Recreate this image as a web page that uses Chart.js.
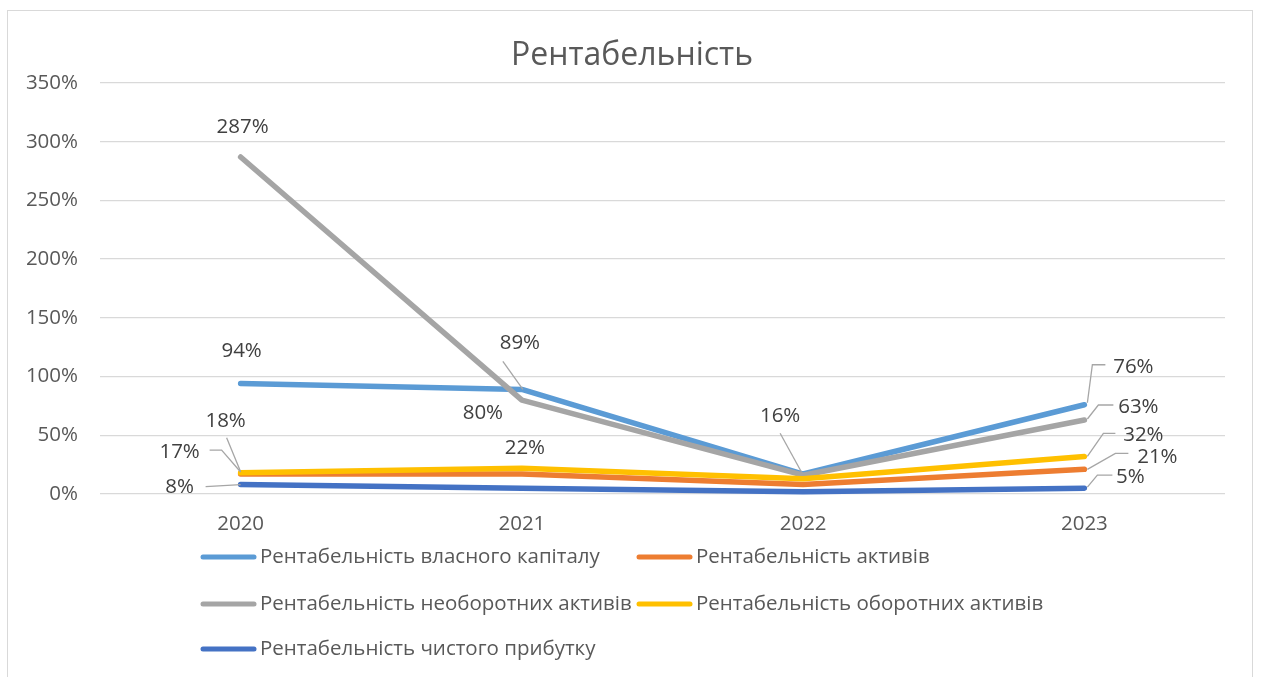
<!DOCTYPE html>
<html><head><meta charset="utf-8">
<script src="https://cdn.jsdelivr.net/npm/chart.js@4"></script>
<style>html,body{margin:0;padding:0;background:#fff;}#wrap{position:relative;width:1261px;height:677px;}</style>
</head><body><div id="wrap"><canvas id="c" width="1261" height="677"></canvas></div>
<script>
// ---- data ----
const chartTitle = 'Рентабельність';
const years = ['2020', '2021', '2022', '2023'];
const seriesNames = [
  'Рентабельність власного капіталу',
  'Рентабельність активів',
  'Рентабельність необоротних активів',
  'Рентабельність оборотних активів',
  'Рентабельність чистого прибутку'
];
const equityReturn = [94, 89, 17, 76];
const assetsReturn = [17, 17, 8, 21];
const nonCurrentReturn = [287, 80, 16, 63];
const currentReturn = [18, 22, 13, 32];
const netProfitReturn = [8, 5, 2, 5];
const yTicks = [0, 50, 100, 150, 200, 250, 300, 350];

// ---- styles ----
const colors = ['#5B9BD5', '#ED7D31', '#A5A5A5', '#FFC000', '#4472C4'];
const FONT = "'Open Sans', 'Noto Sans', sans-serif";
const TEXT = '#595959';
const FS = 20.5;

// label placement (offsets from the point, in px); leader = polyline offsets
const labelPlacement = [
  [{dx:1,dy:-32}, {dx:-2,dy:-46,leader:[[-19,-28],[1,0]]}, null, {dx:49,dy:-38,leader:[[3,-2],[8,-40],[21,-40]]}],
  [{dx:-61,dy:-22,leader:[[-31,-24],[-19,-24],[0,-2]]}, null, null, {dx:73,dy:-12,leader:[[3,0],[31,-16],[44,-16]]}],
  [{dx:2,dy:-30}, {dx:-39,dy:13}, {dx:-23,dy:-59,leader:[[-23,-42],[-1,-2]]}, {dx:54,dy:-13,leader:[[3,-1],[14,-15],[29,-15]]}],
  [{dx:-15,dy:-52,leader:[[-14,-35],[0,-1]]}, {dx:3,dy:-20}, null, {dx:59,dy:-21,leader:[[3,0],[19,-23],[31,-23]]}],
  [{dx:-61,dy:3,leader:[[-35,2],[0,0]]}, null, null, {dx:46,dy:-11,leader:[[3,-1],[13,-13],[28,-13]]}]
];

const seriesData = [equityReturn, assetsReturn, nonCurrentReturn, currentReturn, netProfitReturn];

const decorPlugin = {
  id: 'decor',
  beforeDraw(chart) {
    const ctx = chart.ctx;
    ctx.save();
    ctx.fillStyle = '#fff';
    ctx.fillRect(0, 0, chart.width, chart.height);
    ctx.strokeStyle = '#D9D9D9';
    ctx.lineWidth = 1;
    ctx.strokeRect(7.5, 10.5, 1245, 700);
    ctx.fillStyle = TEXT;
    ctx.font = "32px " + FONT;
    ctx.textAlign = 'center';
    ctx.textBaseline = 'middle';
    ctx.fillText(chartTitle, 632, 56);
    ctx.restore();
  },
  afterDatasetsDraw(chart) {
    const ctx = chart.ctx;
    ctx.save();
    ctx.font = FS + "px " + FONT;
    ctx.textAlign = 'center';
    ctx.textBaseline = 'middle';
    chart.data.datasets.forEach((ds, i) => {
      const meta = chart.getDatasetMeta(i);
      meta.data.forEach((pt, j) => {
        const spec = labelPlacement[i][j];
        if (!spec) return;
        if (spec.leader) {
          ctx.strokeStyle = '#A6A6A6';
          ctx.lineWidth = 1.3;
          ctx.beginPath();
          spec.leader.forEach((p, k) => {
            const X = pt.x + p[0], Y = pt.y + p[1];
            if (k === 0) ctx.moveTo(X, Y); else ctx.lineTo(X, Y);
          });
          ctx.stroke();
        }
        ctx.fillStyle = '#404040';
        ctx.fillText(ds.data[j] + '%', pt.x + spec.dx, pt.y + spec.dy);
      });
    });
    ctx.restore();
  },
  afterDraw(chart) {
    const ctx = chart.ctx;
    ctx.save();
    ctx.font = FS + "px " + FONT;
    ctx.textAlign = 'left';
    ctx.textBaseline = 'middle';
    const cols = [200, 636];
    const rows = [557, 604, 649];
    chart.data.datasets.forEach((ds, i) => {
      const x = cols[i % 2], y = rows[Math.floor(i / 2)];
      ctx.strokeStyle = ds.borderColor;
      ctx.lineWidth = 5;
      ctx.lineCap = 'round';
      ctx.beginPath();
      ctx.moveTo(x + 3, y);
      ctx.lineTo(x + 54, y);
      ctx.stroke();
      ctx.fillStyle = TEXT;
      ctx.fillText(ds.label, x + 60, y);
    });
    ctx.restore();
  }
};

new Chart(document.getElementById('c'), {
  type: 'line',
  data: {
    labels: years,
    datasets: seriesNames.map((name, i) => ({
      label: name,
      data: seriesData[i],
      borderColor: colors[i],
      backgroundColor: colors[i],
      borderWidth: 5.5,
      borderCapStyle: 'round',
      borderJoinStyle: 'round',
      pointRadius: 0,
      tension: 0,
      clip: false,
      order: 5 - i
    }))
  },
  options: {
    responsive: false,
    animation: false,
    devicePixelRatio: 1,
    layout: { padding: { left: 10, right: 36, top: 83, bottom: 0 } },
    plugins: { legend: { display: false }, title: { display: false }, tooltip: { enabled: false } },
    scales: {
      x: {
        offset: true,
        grid: { display: false, drawTicks: false },
        border: { display: false },
        ticks: { color: TEXT, font: { family: FONT, size: FS }, padding: 18, maxRotation: 0 },
        afterFit(s) { s.height = 183; }
      },
      y: {
        min: 0, max: 350,
        afterBuildTicks(s) { s.ticks = yTicks.map(v => ({ value: v })); },
        grid: { color: '#D9D9D9', lineWidth: 1.3, drawTicks: false },
        border: { display: false },
        ticks: { color: TEXT, font: { family: FONT, size: FS }, padding: 22, callback: v => v + '%' },
        afterFit(s) { s.width = 90; }
      }
    }
  },
  plugins: [decorPlugin]
});
</script>
</body></html>
